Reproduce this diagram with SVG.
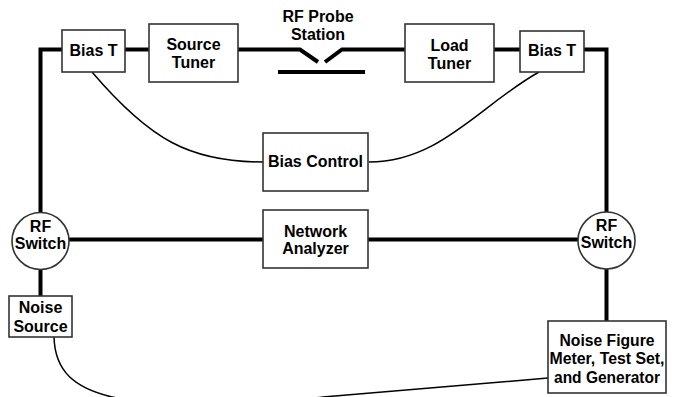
<svg xmlns="http://www.w3.org/2000/svg" width="676" height="397" viewBox="0 0 676 397">
<style>
.box{fill:#fff;stroke:#333;stroke-width:1.6}
.t{font-family:"Liberation Sans",Arial,sans-serif;font-weight:bold;font-size:16px;fill:#000;text-anchor:middle}
.w{fill:none;stroke:#000;stroke-width:4}
.c{fill:none;stroke:#000;stroke-width:1.5}
</style>
<rect width="676" height="397" fill="#fff"/>
<g id="connectors">
<polyline class="w" points="62,49.5 40.5,49.5 40.5,213"/>
<line class="w" x1="125" y1="49.5" x2="149" y2="49.5"/>
<polyline class="w" points="238,49.5 300,49.5 318,62"/>
<polyline class="w" points="325,62 342,49.5 405,49.5"/>
<line class="w" x1="278" y1="72" x2="365" y2="72"/>
<line class="w" x1="494" y1="49.5" x2="520" y2="49.5"/>
<polyline class="w" points="584,49.5 606.5,49.5 606.5,212"/>
<line class="w" x1="69" y1="239.5" x2="263" y2="239.5"/>
<line class="w" x1="368" y1="239.5" x2="578" y2="239.5"/>
<line class="w" x1="40.5" y1="269" x2="40.5" y2="296"/>
<line class="w" x1="606.5" y1="267" x2="606.5" y2="321"/>
<path class="c" d="M92 72 C150 140 190 162 263 162"/>
<path class="c" d="M539 72 C480 105 440 162 369 162"/>
<path class="c" d="M54 337 C55 372 75 388 112 397 C160 408 280 402 323 397 L548 378"/>
</g>
<g id="biasT1"><rect class="box" x="62" y="30" width="63" height="42"/><text class="t" x="93.5" y="56">Bias T</text></g>
<g id="sourceTuner"><rect class="box" x="149" y="24" width="89" height="58"/><text class="t" x="193.5" y="50">Source</text><text class="t" x="193.5" y="68">Tuner</text></g>
<g id="probeStation"><text class="t" x="318" y="22">RF Probe</text><text class="t" x="318" y="40">Station</text></g>
<g id="loadTuner"><rect class="box" x="405" y="24" width="89" height="58"/><text class="t" x="449.5" y="51">Load</text><text class="t" x="449.5" y="69">Tuner</text></g>
<g id="biasT2"><rect class="box" x="520" y="31" width="64" height="41"/><text class="t" x="552" y="56">Bias T</text></g>
<g id="biasControl"><rect class="box" x="263" y="133" width="105" height="58"/><text class="t" x="315.5" y="167">Bias Control</text></g>
<g id="networkAnalyzer"><rect class="box" x="263" y="210" width="105" height="58"/><text class="t" x="315.5" y="237">Network</text><text class="t" x="315.5" y="254">Analyzer</text></g>
<g id="rfSwitch1"><circle class="box" cx="40.5" cy="241" r="28.5"/><text class="t" x="40.5" y="232">RF</text><text class="t" x="40.5" y="249">Switch</text></g>
<g id="rfSwitch2"><circle class="box" cx="606.5" cy="240.5" r="28.5"/><text class="t" x="606.5" y="231">RF</text><text class="t" x="606.5" y="248">Switch</text></g>
<g id="noiseSource"><rect class="box" x="9" y="296" width="63" height="41"/><text class="t" x="40.5" y="313">Noise</text><text class="t" x="40.5" y="332">Source</text></g>
<g id="noiseFigure"><rect class="box" x="548" y="321" width="118" height="72"/><text class="t" x="607" y="346" textLength="95" lengthAdjust="spacingAndGlyphs">Noise Figure</text><text class="t" x="607" y="364" textLength="115" lengthAdjust="spacingAndGlyphs">Meter, Test Set,</text><text class="t" x="607" y="383" textLength="106" lengthAdjust="spacingAndGlyphs">and Generator</text></g>
</svg>
